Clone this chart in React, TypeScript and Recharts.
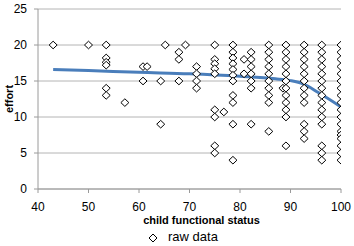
import React from 'react';
import { ComposedChart, Scatter, Line, XAxis, YAxis, CartesianGrid, Legend } from 'recharts';

// raw data: each column = [child functional status, efforts...]
const rawColumns: [number, number[]][] = [
  [43, [20]],
  [50, [20]],
  [53.5, [20, 18.2, 17.6, 17.2, 14, 13]],
  [57.2, [12]],
  [60.8, [17, 15]],
  [61.6, [17]],
  [64.3, [15, 9]],
  [65.2, [20]],
  [67.9, [19, 18, 15]],
  [69.2, [20]],
  [71.4, [17, 16, 15, 14]],
  [75, [20, 18, 17.4, 16.7, 16, 11, 10, 6, 5]],
  [76.8, [10.7]],
  [78.6, [20, 19, 18.2, 17.4, 16.6, 15.8, 15, 13, 12, 9, 4]],
  [80.8, [18, 16]],
  [82.2, [19, 18, 17, 16, 15, 14, 9]],
  [85.7, [20, 19, 18, 17, 16, 15, 14, 13, 12, 8]],
  [88.5, [14]],
  [89.1, [20, 19, 18, 17, 16, 15, 14, 13, 12, 11, 10, 6]],
  [92.7, [20, 19, 18, 17, 16, 15, 14, 13, 12, 9, 8, 7]],
  [96.2, [20, 19, 18, 17, 16, 15, 14, 13, 12, 11, 10, 9, 6, 5, 4]],
  [100, [20, 19, 18, 17, 16, 15, 14, 13, 12, 11, 10, 9, 8, 7.5, 7, 6, 5, 4]],
];

const fitX = [43, 50, 60, 70, 80, 87, 90, 92.5, 95.5, 100];
const fitY = [16.6, 16.45, 16.2, 16.0, 15.65, 15.3, 15.05, 14.6, 13.4, 11.4];

const xTicks = [40, 50, 60, 70, 80, 90, 100];
const yTicks = [0, 5, 10, 15, 20, 25];

const rawData = rawColumns.flatMap(([x, ys]) => ys.map((y) => ({ x, y })));
const fitData = fitX.map((x, i) => ({ x, y: fitY[i] }));

const FONT = '"Liberation Sans", Arial, sans-serif';

const Diamond = (props: any) => {
  const { cx, cy } = props;
  if (cx == null || cy == null) return null;
  const w = 4;
  const h = 3.8;
  return (
    <path
      d={`M${cx},${cy - h}L${cx + w},${cy}L${cx},${cy + h}L${cx - w},${cy}Z`}
      fill="#fff"
      stroke="#000"
      strokeWidth={1}
    />
  );
};

const XTitle = (props: any) => {
  const vb = props.viewBox || {};
  const cx = vb.x + vb.width / 2 + 12;
  return (
    <text x={cx} y={vb.y + 35} textAnchor="middle" fontFamily={FONT} fontSize={11} fontWeight="bold" fill="#000">
      child functional status
    </text>
  );
};

const YTitle = (props: any) => {
  const vb = props.viewBox || {};
  const cy = vb.y + vb.height / 2;
  return (
    <text
      x={13}
      y={cy}
      transform={`rotate(-90, 13, ${cy})`}
      textAnchor="middle"
      fontFamily={FONT}
      fontSize={11}
      fontWeight="bold"
      fill="#000"
    >
      effort
    </text>
  );
};

const LegendContent = () => (
  <div style={{ position: 'relative', height: 22, fontFamily: FONT, fontSize: 13, color: '#000' }}>
    <svg width={10} height={10} style={{ position: 'absolute', left: 148, top: 9 }}>
      <path d="M5,1L9,5L5,9L1,5Z" fill="#fff" stroke="#000" strokeWidth={1} />
    </svg>
    <span style={{ position: 'absolute', left: 168, top: 5, whiteSpace: 'nowrap', lineHeight: '16px' }}>raw data</span>
  </div>
);

export default function App() {
  return (
    <div style={{ position: 'absolute', left: 0, top: 0, width: 354, height: 246, background: '#fff' }}>
      <ComposedChart width={354} height={246} margin={{ top: 9, right: 13, bottom: 0, left: 0 }}>
        <CartesianGrid vertical={false} stroke="#b4b4b4" strokeWidth={1} />
        <XAxis
          type="number"
          dataKey="x"
          domain={[40, 100]}
          ticks={xTicks}
          allowDataOverflow
          height={35}
          tickSize={4}
          tickMargin={9}
          axisLine={{ stroke: '#9a9a9a' }}
          tickLine={{ stroke: '#9a9a9a' }}
          tick={{ fontFamily: FONT, fontSize: 12, fill: '#000' }}
          label={(p: any) => <XTitle {...p} />}
        />
        <YAxis
          type="number"
          domain={[0, 25]}
          ticks={yTicks}
          width={38}
          tickSize={4}
          tickMargin={7}
          axisLine={{ stroke: '#9a9a9a' }}
          tickLine={{ stroke: '#9a9a9a' }}
          tick={{ fontFamily: FONT, fontSize: 12, fill: '#000' }}
          label={(p: any) => <YTitle {...p} />}
        />
        <Legend verticalAlign="bottom" height={22} content={() => <LegendContent />} />
        <Scatter data={rawData} dataKey="y" name="raw data" shape={Diamond} isAnimationActive={false} />
        <Line
          data={fitData}
          dataKey="y"
          type="monotone"
          stroke="#4a7ebb"
          strokeWidth={3}
          dot={false}
          activeDot={false}
          legendType="none"
          isAnimationActive={false}
        />
      </ComposedChart>
    </div>
  );
}
